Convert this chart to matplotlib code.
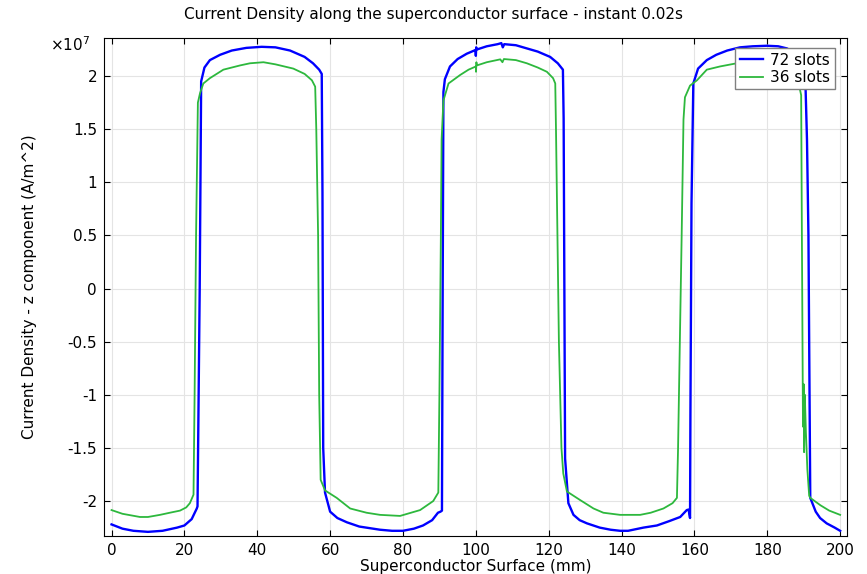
"Current density along superconductor surface, 72 vs 36 slots"

import matplotlib
matplotlib.use('Agg')
import matplotlib.pyplot as plt
from matplotlib.ticker import FuncFormatter

# 72 slots  (x in mm, J in units of 1e7 A/m^2)
x72 = [0, 3, 6, 10, 14, 18, 20, 22, 23.4, 23.6, 24.2, 24.6,
       25.5, 27, 29.8, 33, 37, 41.2, 45, 49, 53, 55.3, 57.0, 57.7,
       57.9, 58.1, 58.6, 60, 62, 64.6, 68, 73.7, 77, 80, 83, 85.5,
       88, 89.6, 90.3, 90.7, 90.9, 91.1, 91.5, 92.9, 95, 97.5,
       99.9, 100.0, 100.1, 100.3, 103, 106, 107, 107.4, 107.8, 111,
       114, 117, 120.4, 122.5, 123.9, 124.1, 124.3, 124.5, 125.4,
       126.8, 128.5, 130.5, 134, 137, 139.6, 141.8, 146, 149.7, 153,
       156.1, 157.9, 158.4, 158.8, 158.9, 159.2, 159.7, 161, 163.4,
       166, 169, 172.5, 176, 179.9, 183, 185.4, 187.5, 189.5, 190.3,
       190.5, 190.9, 191.3, 191.6, 191.8, 193.3, 194.5, 196.3, 198.5,
       200]
j72 = [-2.22, -2.26, -2.28, -2.29, -2.28, -2.25, -2.23, -2.17, -2.07,
       -2.05, 0.0, 1.95,
       2.08, 2.15, 2.20, 2.24, 2.265, 2.275, 2.27, 2.24, 2.18, 2.12,
       2.06, 2.02,
       0.9, -1.5, -1.92, -2.10, -2.16, -2.20, -2.24, -2.27, -2.28,
       -2.28, -2.26, -2.23,
       -2.18, -2.11, -2.10, -2.09, 0.0, 1.85, 1.97, 2.09, 2.16, 2.21,
       2.245, 2.19, 2.27, 2.25, 2.28, 2.30, 2.31, 2.27, 2.30, 2.29,
       2.26, 2.23, 2.18, 2.12, 2.06, 1.6, 0.0, -1.6, -2.02,
       -2.13, -2.18, -2.21, -2.25, -2.27, -2.28, -2.28, -2.25, -2.23,
       -2.19,
       -2.15, -2.085, -2.08, -2.16, -1.2, 0.8, 1.93, 2.07, 2.15,
       2.20, 2.24, 2.27, 2.28, 2.285, 2.28, 2.26, 2.22, 2.14, 2.05,
       1.9, 1.4, 0.5, -1.0, -1.97, -2.10, -2.16, -2.21, -2.25,
       -2.28]

# 36 slots
x36 = [0, 3, 7.8, 10, 13.3, 16, 18.8, 20.5, 21.5, 22.5, 22.8, 23.2,
       23.7, 24.3, 25.2, 27, 30.7, 35.3, 38, 41.7, 45, 49.9, 53, 55,
       55.9, 56.2, 56.7, 57.0, 57.4, 58.6, 61.8, 65.5, 70, 73.7, 79.2,
       84.7, 88.3, 89.7, 90.0, 90.4, 90.6, 91.1, 92.5, 95.7, 98, 100,
       100.05, 100.15, 100.3, 103, 106.7, 107.3, 107.7, 111, 114, 117,
       119.5, 121.2, 121.8, 122.0, 122.4, 122.8, 123.5, 124, 125,
       128.6, 132.3, 135, 139.6, 145.1, 148, 151.5, 154, 155.2, 155.5,
       156.0, 156.5, 157, 157.4, 158.8, 160.7, 163.4, 167, 171.6, 175,
       178, 182, 185, 187.5, 188.8, 189.3, 189.5, 189.8, 190.0, 190.1,
       190.3, 190.6, 191.0, 191.5, 191.8, 194.6, 197, 200]
j36 = [-2.085, -2.12, -2.15, -2.15, -2.13, -2.11, -2.09, -2.06, -2.02,
       -1.94, -1.0, 0.5,
       1.75, 1.84, 1.93, 1.98, 2.06, 2.10, 2.12, 2.13, 2.11, 2.07,
       2.02, 1.96,
       1.90, 1.5, 0.5, -1.0, -1.8, -1.90, -1.97, -2.07, -2.11, -2.13,
       -2.14,
       -2.085, -2.00, -1.92, -1.0, 0.5, 1.4, 1.77, 1.93, 2.01, 2.06,
       2.09,
       2.04, 2.13, 2.10, 2.13, 2.157, 2.13, 2.16, 2.15, 2.12, 2.08,
       2.04, 1.98, 1.93, 1.5, 0.5, -0.5, -1.5, -1.74, -1.91,
       -1.99, -2.07, -2.11, -2.13, -2.13, -2.11, -2.07, -2.02, -1.97,
       -1.52,
       -0.5, 0.5, 1.59, 1.80, 1.91, 1.96, 2.06, 2.09, 2.12, 2.14,
       2.15, 2.13, 2.08, 2.00, 1.90, 1.82, 0.5, -1.3, -0.9, -1.54,
       -1.0, -1.35, -1.7, -1.95, -1.97, -2.04, -2.09, -2.13]

SCALE = 1e7
x_ticks = list(range(0, 201, 20))
y_ticks = [-2, -1.5, -1, -0.5, 0, 0.5, 1, 1.5, 2]


def main():
    plt.rcParams['axes.unicode_minus'] = False
    plt.rcParams['font.size'] = 11

    fig = plt.figure(figsize=(8.67, 5.74), dpi=100)
    ax = fig.add_axes([0.12, 0.0662, 0.857, 0.8676])

    ax.plot(x72, [v * SCALE for v in j72], color='#0000ff', lw=1.7,
            label='72 slots')
    ax.plot(x36, [v * SCALE for v in j36], color='#2db83d', lw=1.3,
            label='36 slots')

    ax.set_xlim(-2.06, 201.9)
    ax.set_ylim(-2.329e7, 2.358e7)
    ax.set_xticks(x_ticks)
    ax.set_yticks([v * SCALE for v in y_ticks])
    ax.yaxis.set_major_formatter(FuncFormatter(lambda v, p: '%g' % (v / SCALE)))

    ax.grid(True, color='#e4e4e4', lw=0.8)
    ax.set_axisbelow(True)
    ax.tick_params(direction='in', length=4, width=0.8, top=True,
                   right=True, labelsize=11, pad=5, colors='black')
    for s in ax.spines.values():
        s.set_linewidth(0.8)

    ax.set_xlabel('Superconductor Surface (mm)', fontsize=11, labelpad=1)
    ax.set_ylabel('Current Density - z component (A/m^2)', fontsize=11,
                  labelpad=22)
    fig.text(0.5, 1 - 15 / 574,
             'Current Density along the superconductor surface - instant 0.02s',
             ha='center', va='center', fontsize=11)
    fig.text(50 / 867, 1 - 45 / 574, r'×10$^{7}$', ha='left', va='center',
             fontsize=11)

    leg = ax.legend(loc='upper right', bbox_to_anchor=(835 / 867, 1 - 48 / 574),
                    bbox_transform=fig.transFigure, borderaxespad=0,
                    fancybox=False, framealpha=1, edgecolor='#808080',
                    fontsize=11, handlelength=1.5, handletextpad=0.5,
                    borderpad=0.3, labelspacing=0.15)
    leg.get_frame().set_linewidth(1.0)

    fig.savefig('out.png', dpi=100)


if __name__ == "__main__":
    main()
